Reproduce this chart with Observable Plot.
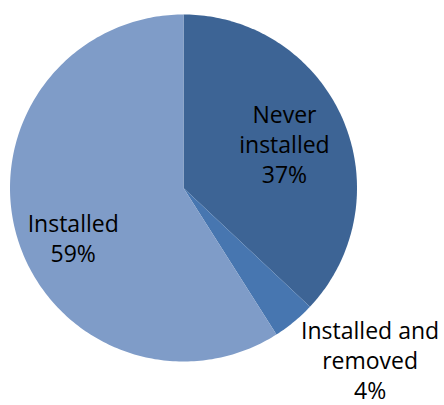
<!DOCTYPE html>
<html>
<head>
<meta charset="utf-8">
<script src="https://cdn.jsdelivr.net/npm/d3@7"></script>
<script src="https://cdn.jsdelivr.net/npm/@observablehq/plot@0.6"></script>
<style>
  html, body { margin: 0; padding: 0; background: #fff; }
  #chart svg { display: block; }
</style>
</head>
<body>
<div id="chart"></div>
<script>
// Data
const categories = ["Never installed", "Installed and removed", "Installed"];
const labels = ["Never\ninstalled\n37%", "Installed and\nremoved\n4%", "Installed\n59%"];
const values = [37, 4, 59];
const colors = ["#3d6495", "#4776b0", "#7f9cc8"];

// Label placement (polar: radius fraction, angle in degrees clockwise from top)
const labelRadius = [0.636, 1.461, 0.697];
const labelAngle = [66.2, 132.6, 245.8];

const pie = d3.pie().sort(null).value(d => d.value)(categories.map((name, i) => ({name, value: values[i]})));

// Build slice outlines from the pie angles
const pts = [];
for (const a of pie) {
  pts.push({name: a.data.name, x: 0, y: 0});
  const n = Math.max(4, Math.ceil((a.endAngle - a.startAngle) / (Math.PI * 2) * 360));
  for (let k = 0; k <= n; k++) {
    const t = a.startAngle + (a.endAngle - a.startAngle) * k / n;
    pts.push({name: a.data.name, x: Math.sin(t), y: Math.cos(t)});
  }
}

const labelData = categories.map((name, i) => {
  const t = labelAngle[i] * Math.PI / 180;
  return {name, text: labels[i], x: labelRadius[i] * Math.sin(t), y: labelRadius[i] * Math.cos(t)};
});

const chart = Plot.plot({
  width: 444,
  height: 405,
  marginLeft: 9.5,
  marginRight: 87.5,
  marginTop: 14,
  marginBottom: 44,
  x: {domain: [-1, 1], axis: null},
  y: {domain: [-1, 1], axis: null},
  color: {domain: categories, range: colors},
  style: {fontFamily: "'Open Sans', sans-serif", background: "white", overflow: "visible"},
  marks: [
    Plot.line(pts, {x: "x", y: "y", z: "name", fill: "name", stroke: "none", curve: "linear-closed"}),
    Plot.text(labelData, {x: "x", y: "y", text: "text", fontSize: 23, lineHeight: 1.3, fill: "black", textAnchor: "middle", lineAnchor: "middle"})
  ]
});
document.getElementById("chart").appendChild(chart);
</script>
</body>
</html>
